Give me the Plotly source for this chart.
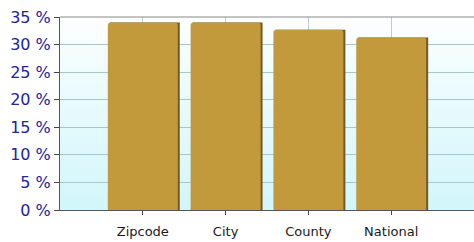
import plotly.graph_objects as go
import base64

categories = ["Zipcode", "City", "County", "National"]
values = [34.0, 34.0, 32.7, 31.3]
y_ticks = [0, 5, 10, 15, 20, 25, 30, 35]

bar_color = "#C39A3B"
shadow_color = "#6E5B2C"
W = 0.845

svg = ('<svg xmlns="http://www.w3.org/2000/svg" width="100" height="100" preserveAspectRatio="none">'
       '<defs><linearGradient id="g" x1="0" y1="0" x2="0" y2="1">'
       '<stop offset="0" stop-color="#FFFFFF"/><stop offset="0.25" stop-color="#F0FCFE"/>'
       '<stop offset="1" stop-color="#D2F6FB"/></linearGradient></defs>'
       '<rect width="100" height="100" fill="url(#g)"/></svg>')
bg_uri = "data:image/svg+xml;base64," + base64.b64encode(svg.encode()).decode()

fig = go.Figure()

fig.add_trace(go.Bar(
    x=categories, y=values, width=W, offset=-W / 2 + 0.024,
    marker=dict(color=shadow_color, line=dict(width=0)),
    showlegend=False, hoverinfo="skip",
))
fig.add_trace(go.Bar(
    x=categories, y=values, width=W, offset=-W / 2,
    marker=dict(color=bar_color, line=dict(width=0), cornerradius=3),
    showlegend=False,
))

fig.update_layout(
    width=474, height=242,
    margin=dict(l=60, r=0, t=17, b=32),
    paper_bgcolor="white", plot_bgcolor="rgba(0,0,0,0)",
    barmode="overlay",
    images=[dict(source=bg_uri, xref="paper", yref="paper", x=0, y=1,
                 sizex=1, sizey=1, sizing="stretch", layer="below",
                 xanchor="left", yanchor="top")],
    xaxis=dict(
        type="category", range=[-1, 4], automargin=False,
        showgrid=True, gridcolor="#B5CFD2", gridwidth=1,
        showline=True, linecolor="#555555", linewidth=1, mirror=False,
        ticks="outside", ticklen=4, tickcolor="#444444", ticklabelstandoff=5,
        tickfont=dict(family="DejaVu Sans", size=13, color="#1A1A1A"),
        fixedrange=True,
    ),
    yaxis=dict(
        range=[0, 35], tickvals=y_ticks, ticktext=[f"{v} %" for v in y_ticks],
        automargin=False,
        showgrid=True, gridcolor="#A9C6C9", gridwidth=1,
        showline=True, linecolor="#555555", linewidth=1,
        ticks="outside", ticklen=5, tickcolor="#444444",
        tickfont=dict(family="DejaVu Sans", size=16, color="#22229A"),
        zeroline=False, fixedrange=True,
    ),
    shapes=[dict(type="line", xref="paper", yref="paper", x0=0, x1=1, y0=1, y1=1,
                 line=dict(color="#888888", width=1))],
)

fig.write_html(
    "out.html",
    config={"displayModeBar": False},
    post_script="document.body.style.margin='0';document.body.style.overflow='hidden';",
)
